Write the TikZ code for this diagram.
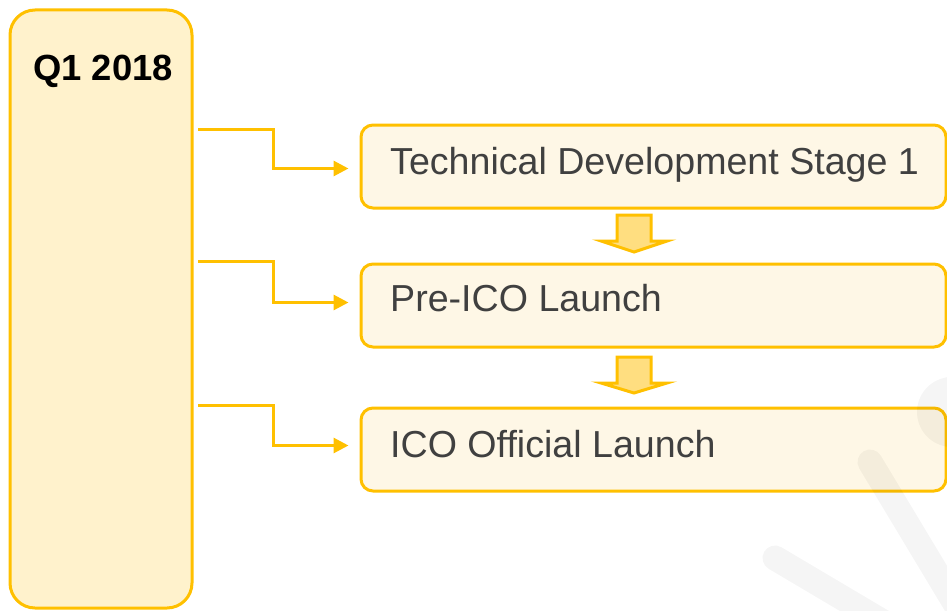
\documentclass[tikz,border=0pt]{standalone}
\usepackage{fontspec}
\setmainfont{Liberation Sans}
\usetikzlibrary{arrows.meta}
\definecolor{goldline}{HTML}{FFC000}
\definecolor{colfill}{HTML}{FFF2CC}
\definecolor{stepfill}{HTML}{FEF7E6}
\definecolor{arrfill}{HTML}{FFDE80}
\definecolor{txtgray}{HTML}{404040}
\tikzset{
	colbox/.style={draw=goldline, fill=colfill, line width=3pt, rounded corners=25pt, inner sep=0pt},
	stepbox/.style={draw=goldline, fill=stepfill, line width=3pt, rounded corners=12pt, minimum width=585pt, minimum height=83pt, anchor=north west},
	steptext/.style={anchor=base west, inner sep=0pt, text=txtgray, font=\fontsize{37.6}{44}\selectfont},
	elbow/.style={draw=goldline, line width=3pt, -{Triangle[length=15pt, width=15pt]}, shorten >=11pt},
	blockarrow/.style={draw=goldline, fill=arrfill, line width=3pt, line join=miter},
	mark band/.style={line width=25pt, line cap=round, black, opacity=0.04}
}

\begin{document}
\begin{tikzpicture}[x=1pt, y=-1pt]
				\useasboundingbox (0,0) rectangle (947,610);
				
				\node[colbox, minimum width=182pt, minimum height=598pt, anchor=north west] (q1) at (8.5,8.5) {};
				\node[font=\fontsize{36.4}{42}\selectfont\bfseries] (q1txt) at (103,71) {Q1 2018};
				
				\node[stepbox] (s1) at (359.5,123.5) {};
				\node[stepbox] (s2) at (359.5,262.5) {};
				\node[stepbox] (s3) at (359.5,406.5) {};
				\node[steptext] (t1) at (390,174) {Technical Development Stage 1};
				\node[steptext] (t2) at (390,311) {Pre-ICO Launch};
				\node[steptext] (t3) at (390,457.5) {ICO Official Launch};
				
				\coordinate (e1) at (198,129);
				\coordinate (e2) at (198,261);
				\coordinate (e3) at (198,405);
				\draw[elbow] (e1) -- ++(75,0) |- ([yshift=-2pt]s1.west);
				\draw[elbow] (e2) -- ++(75,0) |- ([yshift=3pt]s2.west);
				\draw[elbow] (e3) -- ++(75,0) |- ([yshift=4pt]s3.west);
				
				\draw[blockarrow] (617,215) -- (651,215) -- (651,241) -- (667,241) -- (634,252) -- (601,241) -- (617,241) -- cycle;
				\draw[blockarrow] (617,357) -- (651,357) -- (651,383) -- (667,383) -- (634,393) -- (601,383) -- (617,383) -- cycle;
				
				\draw[mark band] (775,558) -- (905,635);
				\draw[mark band] (870,462) -- (965,620);
				\draw[mark band, line width=70pt] (952,412) -- (1000,400);
			\end{tikzpicture}
\end{document}
